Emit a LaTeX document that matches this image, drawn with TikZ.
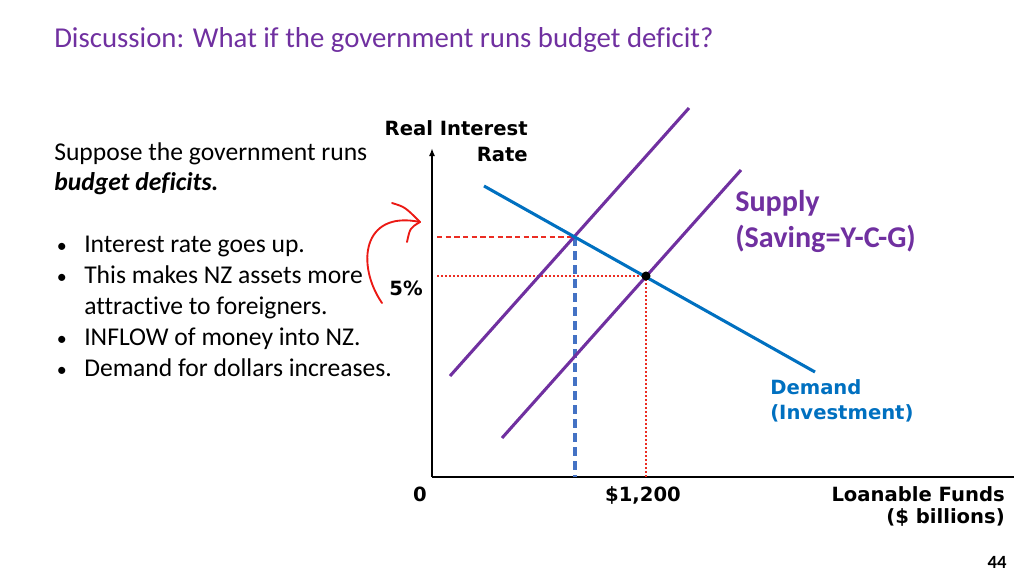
\documentclass[tikz,border=0pt]{standalone}
\usepackage{fontspec}
\setmainfont{Carlito}[Ligatures=NoCommon]
\newfontfamily\chartfont{DejaVu Sans}
\usepackage{tikz}
\usetikzlibrary{arrows.meta,positioning}
\definecolor{slidepurple}{RGB}{112,48,160}
\definecolor{demandblue}{RGB}{0,112,192}
\definecolor{shiftblue}{RGB}{68,114,196}
\definecolor{guidered}{RGB}{235,45,35}
\definecolor{penred}{RGB}{235,25,20}
\newcommand{\bul}{\makebox[22.5pt][l]{\hspace{2pt}\fontsize{15}{15}\selectfont•}}

\begin{document}
\begin{tikzpicture}[
    x=0.75pt, y=-0.75pt,
    axis/.style={line width=1.6pt},
    curve/.style={line width=2.3pt, draw=#1},
    guide/.style={draw=guidered, line width=0.9pt},
    body/.style={font=\fontsize{19.2}{23.2}\selectfont, align=left, inner sep=0pt},
    axlabel/.style={font=\chartfont\bfseries\fontsize{14.7}{19.5}\selectfont, inner sep=0pt},
    pen/.style={draw=penred, line width=1.4pt, line cap=round, line join=round}
]
\useasboundingbox (0,0) rectangle (1024,576);

% title
\node[anchor=west, inner sep=0pt, text=slidepurple, font=\fontsize{21.6}{24}\selectfont] (title) at (54,40)
    {Discussion: What if the government runs budget deficit?};

% left text
\node[body, anchor=north west] (story) at (54,142) {%
Suppose the government runs\\
\textbf{\textit{budget deficits.}}\\[23.2pt]
\bul Interest rate goes up.\\
\bul This makes NZ assets more\\
\hspace*{22.5pt}attractive to foreigners.\\
\bul INFLOW of money into NZ.\\
\bul Demand for dollars increases.};

% axes
\coordinate (origin) at (432,477);
\coordinate (ytop) at (432,148);
\coordinate (xend) at (1014,477);
\draw[axis, -{Latex[length=6pt,width=4.5pt]}] (origin) -- (ytop);
\draw[axis] (origin) -- (xend);

% curves
\coordinate (demandA) at (484,186);
\coordinate (demandB) at (815,372);
\coordinate (supplyLA) at (450,376);
\coordinate (supplyLB) at (689,108);
\coordinate (supplyRA) at (502,438);
\coordinate (supplyRB) at (741,170);
\coordinate (eqNew) at (575,237);
\coordinate (eqOld) at (646,276);
\coordinate (rateNew) at (437,237);
\coordinate (rateOld) at (437,276);
\coordinate (qtyNew) at (575,477);
\coordinate (qtyOld) at (646,477);

\draw[guide, dash pattern=on 4pt off 2.5pt] (rateNew) -- (eqNew);
\draw[guide, dash pattern=on 1.4pt off 1.6pt] (rateOld) -- (eqOld) -- (qtyOld);
\draw[draw=shiftblue, line width=2.6pt, dash pattern=on 7pt off 3.5pt] (eqNew) -- (qtyNew);

\draw[curve=slidepurple] (supplyLA) -- (supplyLB);
\draw[curve=slidepurple] (supplyRA) -- (supplyRB);
\draw[curve=demandblue] (demandA) -- (demandB);
\fill (eqOld) circle (3.4pt);

% labels
\node[axlabel, anchor=north east, align=right] (ylabel) at (528,120) {Real Interest\\Rate};
\node[axlabel, anchor=north east, align=right, font=\chartfont\bfseries\fontsize{14.7}{16.5}\selectfont] (xlabel) at (1005,486) {Loanable Funds\\(\$ billions)};
\node[axlabel] (zero) at (420,494) {0};
\node[axlabel] (rate5) at (406,288) {5\%};
\node[axlabel] (qty) at (643,495) {\$1,200};
\node[axlabel, anchor=north west, align=left, text=demandblue, font=\chartfont\bfseries\fontsize{14.7}{19}\selectfont] (dlabel) at (770,379) {Demand\\(Investment)};
\node[anchor=north west, align=left, inner sep=0pt, text=slidepurple,
      font=\bfseries\fontsize{22.6}{27}\selectfont] (slabel) at (735,190) {Supply\\(Saving=Y-C-G)};

% hand-drawn arrow
\draw[pen] (382,303) .. controls (356,265) and (362,210) .. (420,222);
\draw[pen] (392,203) .. controls (405,207) .. (420,222) .. controls (410,228) .. (407,242);

\node[inner sep=0pt, font=\bfseries\fontsize{14}{16}\selectfont] (page) at (997,562) {44};
\end{tikzpicture}
\end{document}
